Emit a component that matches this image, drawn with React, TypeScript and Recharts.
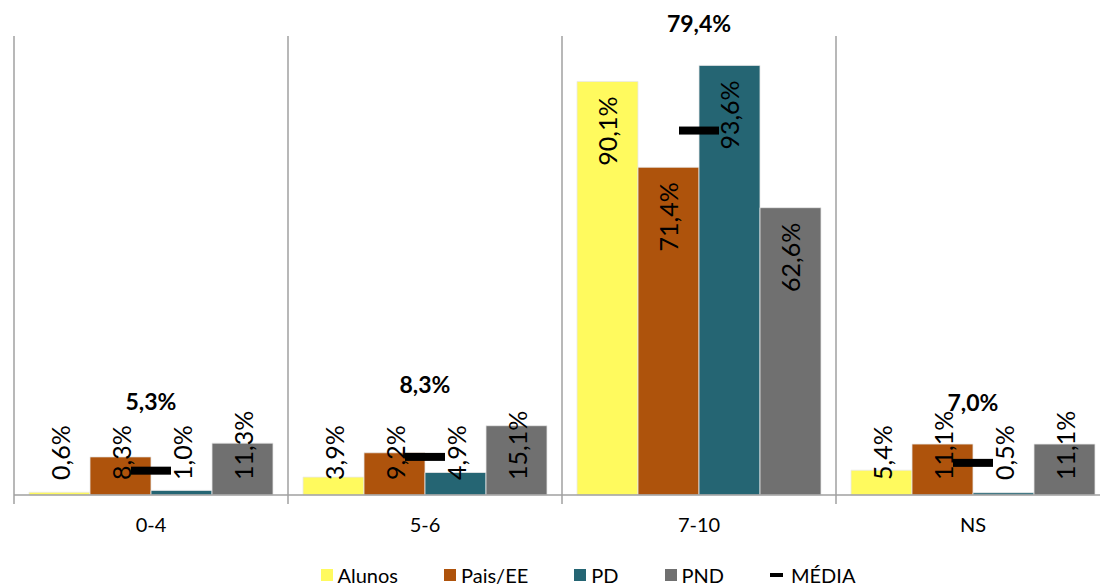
import React from 'react';
import { ComposedChart, Bar, Line, XAxis, YAxis, ReferenceLine } from 'recharts';

const categories = ['0-4', '5-6', '7-10', 'NS'];
const alunos = [0.6, 3.9, 90.1, 5.4];
const paisEE = [8.3, 9.2, 71.4, 11.1];
const pd = [1.0, 4.9, 93.6, 0.5];
const pnd = [11.3, 15.1, 62.6, 11.1];
const media = [5.3, 8.3, 79.4, 7.0];

const series = [
  { key: 'Alunos', values: alunos, color: '#FFFA5E' },
  { key: 'Pais/EE', values: paisEE, color: '#AE530C' },
  { key: 'PD', values: pd, color: '#256573' },
  { key: 'PND', values: pnd, color: '#707070' },
];

const data = categories.map((cat, i) => {
  const row: any = { cat, media: media[i] };
  series.forEach((s) => (row[s.key] = s.values[i]));
  // anchor for the MÉDIA label: just above the tallest bar of the group
  row.top = Math.max(...series.map((s) => s.values[i]));
  return row;
});

const fmt = (v: number) => v.toFixed(1).replace('.', ',') + '%';
const FONT = 'Lato, "Open Sans", sans-serif';
const GRID = '#A0A0A0';

const BarLabel = (props: any) => {
  const { x, y, width, height, value } = props;
  const cx = x + width / 2;
  const tall = height > 100;
  const ay = tall ? y + 15 : y + height - 15;
  return (
    <text
      x={cx}
      y={ay}
      transform={`rotate(-90, ${cx}, ${ay})`}
      textAnchor={tall ? 'end' : 'start'}
      dominantBaseline="central"
      fontSize={25}
      fontFamily={FONT}
      fill="#000"
    >
      {fmt(value)}
    </text>
  );
};

const Dash = (props: any) => {
  const { cx, cy } = props;
  if (cx == null || cy == null) return null;
  return <rect x={cx - 20} y={cy - 4} width={40} height={8} fill="#000" />;
};

const MediaLabel = (props: any) => {
  const { x, y, index } = props;
  return (
    <text
      x={x}
      y={y - 42}
      textAnchor="middle"
      dominantBaseline="central"
      fontSize={23}
      fontWeight="bold"
      fontFamily={FONT}
      fill="#000"
    >
      {fmt(media[index])}
    </text>
  );
};

// category separator, running a few px past the baseline like a tick mark
const Separator = (props: any) => {
  const { x1, y1, x2, y2 } = props;
  return <line x1={x1} y1={Math.min(y1, y2)} x2={x2} y2={Math.max(y1, y2) + 9} stroke={GRID} strokeWidth={1.5} />;
};

const legendItems = [
  ...series.map((s) => ({ name: s.key, color: s.color, dash: false })),
  { name: 'MÉDIA', color: '#000', dash: true },
];

export default function App() {
  return (
    <div style={{ position: 'absolute', left: 0, top: 0, width: 1100, height: 588, overflow: 'hidden', background: '#fff' }}>
      <ComposedChart
        width={1110}
        height={540}
        data={data}
        margin={{ top: 36, right: 0, left: 14, bottom: 0 }}
        barCategoryGap={15}
        barGap={0}
      >
        <XAxis
          xAxisId="cat"
          dataKey="cat"
          height={45}
          axisLine={{ stroke: GRID, strokeWidth: 1.5 }}
          tickLine={false}
          tickSize={0}
          tick={{ fontSize: 20, fontFamily: FONT, fill: '#000' }}
          dy={21}
        />
        <YAxis hide domain={[0, 100]} />
        {categories.map((c) => (
          <ReferenceLine key={c} xAxisId="cat" x={c} position="start" shape={<Separator />} ifOverflow="visible" />
        ))}
        <ReferenceLine
          xAxisId="cat"
          x={categories[categories.length - 1]}
          position="end"
          shape={<Separator />}
          ifOverflow="visible"
        />
        {series.map((s) => (
          <Bar
            key={s.key}
            xAxisId="cat"
            dataKey={s.key}
            fill={s.color}
            stroke="#e8e8e8"
            strokeWidth={0.8}
            isAnimationActive={false}
            label={<BarLabel />}
          />
        ))}
        <Line
          xAxisId="cat"
          dataKey="top"
          stroke="none"
          dot={false}
          activeDot={false}
          isAnimationActive={false}
          label={<MediaLabel />}
        />
        <Line
          xAxisId="cat"
          dataKey="media"
          stroke="none"
          dot={<Dash />}
          activeDot={false}
          isAnimationActive={false}
        />
      </ComposedChart>
      <div
        style={{
          position: 'absolute',
          top: 564,
          left: 0,
          width: 1100,
          height: 22,
          lineHeight: '22px',
          display: 'flex',
          justifyContent: 'center',
          fontFamily: FONT,
          fontSize: 20,
          color: '#000',
        }}
      >
        <div style={{ display: 'flex', gap: 46, marginLeft: 76 }}>
          {legendItems.map((it) => (
            <div key={it.name} style={{ display: 'flex', alignItems: 'center', gap: 5 }}>
              {it.dash ? (
                <span style={{ width: 13, height: 4, background: '#000', display: 'inline-block', marginRight: 3 }} />
              ) : (
                <span style={{ width: 12, height: 12, background: it.color, display: 'inline-block' }} />
              )}
              <span>{it.name}</span>
            </div>
          ))}
        </div>
      </div>
    </div>
  );
}
